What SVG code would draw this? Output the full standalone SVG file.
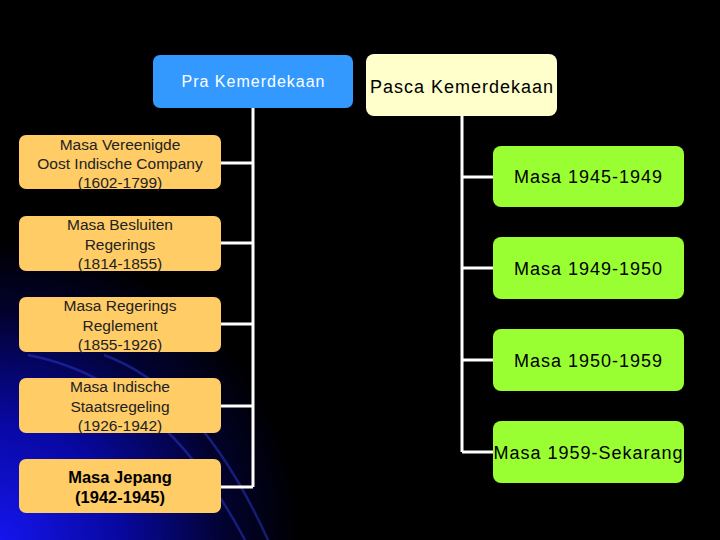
<svg xmlns="http://www.w3.org/2000/svg" width="720" height="540" viewBox="0 0 720 540">
<defs>
<radialGradient id="bg" cx="0" cy="540" r="300" gradientUnits="userSpaceOnUse">
<stop offset="0" stop-color="#1515ee"/>
<stop offset="0.4" stop-color="#0808a0"/>
<stop offset="0.75" stop-color="#020230"/>
<stop offset="1" stop-color="#000000"/>
</radialGradient>
<style>
.orange{fill:#FFCC66}
.green{fill:#99FF33}
.t{font-family:"Liberation Sans",Arial,sans-serif;text-anchor:middle}
.ot{font-size:15.5px;fill:#222}
.ob{font-size:16.5px;font-weight:bold;fill:#000}
.gt{font-size:18px;fill:#000;letter-spacing:1px}
.conn{stroke:#fff;stroke-width:3;fill:none}
.arc{stroke:#2a3acc;stroke-width:2.5;fill:none;opacity:0.5}
</style>
</defs>
<rect width="720" height="540" fill="#000"/>
<rect width="720" height="540" fill="url(#bg)"/>
<path class="arc" d="M28,355 Q160,380 245,540"/>
<path class="arc" d="M104,355 Q200,390 268,540"/>
<g id="connectors">
<path class="conn" d="M253,108 V487 M221,163 H253 M221,243 H253 M221,324 H253 M221,406 H253 M221,487 H253"/>
<path class="conn" d="M462,116 V452 M462,177 H493 M462,268 H493 M462,360 H493 M462,452 H493"/>
</g>
<g id="pra">
<rect x="153" y="55" width="200" height="53" rx="7" fill="#3399FF"/>
<text class="t" x="253.5" y="87" style="font-size:16px;fill:#fff;letter-spacing:1px">Pra Kemerdekaan</text>
</g>
<g id="pasca">
<rect x="366" y="54" width="191" height="62" rx="8" fill="#FFFFCC"/>
<text class="t" x="462" y="93" style="font-size:18px;fill:#000;letter-spacing:1px">Pasca Kemerdekaan</text>
</g>
<g id="voc">
<rect class="orange" x="19" y="135" width="202" height="54" rx="7"/>
<text class="t ot" x="120" y="150">Masa Vereenigde</text>
<text class="t ot" x="120" y="169">Oost Indische Company</text>
<text class="t ot" x="120" y="188">(1602-1799)</text>
</g>
<g id="besluiten">
<rect class="orange" x="19" y="216" width="202" height="55" rx="7"/>
<text class="t ot" x="120" y="230">Masa Besluiten</text>
<text class="t ot" x="120" y="250">Regerings</text>
<text class="t ot" x="120" y="269">(1814-1855)</text>
</g>
<g id="reglement">
<rect class="orange" x="19" y="297" width="202" height="55" rx="7"/>
<text class="t ot" x="120" y="311">Masa Regerings</text>
<text class="t ot" x="120" y="331">Reglement</text>
<text class="t ot" x="120" y="350">(1855-1926)</text>
</g>
<g id="staatsregeling">
<rect class="orange" x="19" y="378" width="202" height="55" rx="7"/>
<text class="t ot" x="120" y="392">Masa Indische</text>
<text class="t ot" x="120" y="412">Staatsregeling</text>
<text class="t ot" x="120" y="431">(1926-1942)</text>
</g>
<g id="jepang">
<rect class="orange" x="19" y="459" width="202" height="54" rx="7"/>
<text class="t ob" x="120" y="483">Masa Jepang</text>
<text class="t ob" x="120" y="503">(1942-1945)</text>
</g>
<g id="m1945">
<rect class="green" x="493" y="146" width="191" height="61" rx="8"/>
<text class="t gt" x="588.5" y="183">Masa 1945-1949</text>
</g>
<g id="m1949">
<rect class="green" x="493" y="237" width="191" height="62" rx="8"/>
<text class="t gt" x="588.5" y="275">Masa 1949-1950</text>
</g>
<g id="m1950">
<rect class="green" x="493" y="329" width="191" height="62" rx="8"/>
<text class="t gt" x="588.5" y="367">Masa 1950-1959</text>
</g>
<g id="m1959">
<rect class="green" x="493" y="421" width="191" height="62" rx="8"/>
<text class="t gt" x="588.5" y="459">Masa 1959-Sekarang</text>
</g>
</svg>
